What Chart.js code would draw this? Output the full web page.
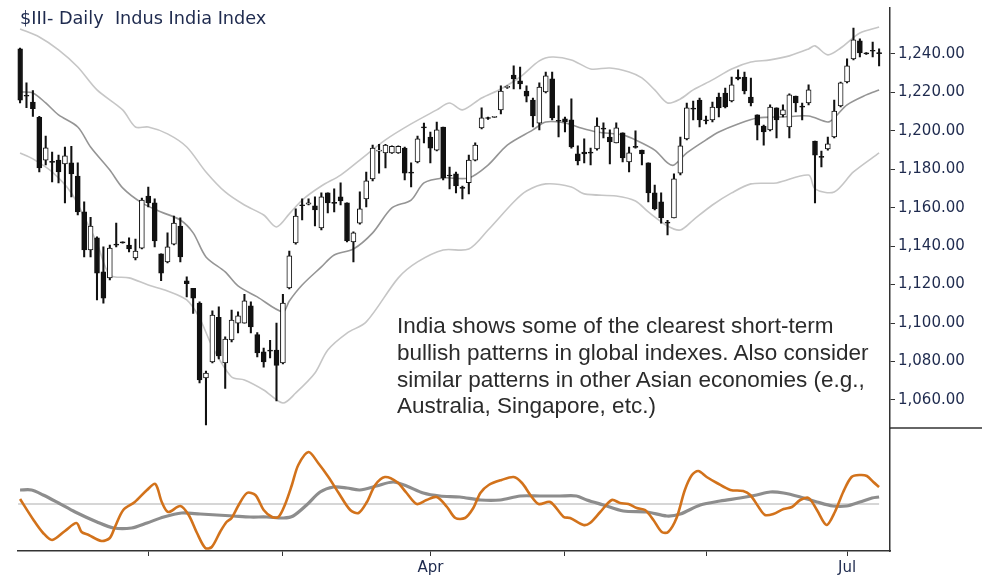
<!DOCTYPE html>
<html>
<head>
<meta charset="utf-8">
<script src="https://cdn.jsdelivr.net/npm/chart.js@4.4.1/dist/chart.umd.min.js"></script>
<style>
  html, body { margin: 0; padding: 0; background: #fff; }
  #wrap { position: relative; width: 982px; height: 580px; overflow: hidden; }
  #priceBox { position: absolute; left: 0; top: 0; width: 982px; height: 430px; }
  #oscBox { position: absolute; left: 0; top: 428px; width: 982px; height: 152px; }
  .title { position: absolute; left: 20px; top: 8px; font: 17.7px "DejaVu Sans"; line-height: 20px; color: #1e2a4e; white-space: pre; }
  .note { position: absolute; left: 397px; top: 313px; font: 22.5px "Liberation Sans"; line-height: 26.8px; color: #2b2b2b; white-space: pre; }
</style>
</head>
<body>
<div id="wrap">
  <div id="priceBox"><canvas id="priceChart"></canvas></div>
  <div id="oscBox"><canvas id="oscChart"></canvas></div>
  <div class="title">$III- Daily  Indus India Index</div>
  <div class="note">India shows some of the clearest short-term
bullish patterns in global indexes. Also consider
similar patterns in other Asian economies (e.g.,
Australia, Singapore, etc.)</div>
</div>
<script>
// daily candles (Jan - early Jul)
const opens = [1242.6,1218.4,1215,1207,1184.8,1184,1184.8,1182.8,1183.3,1176.5,
  1157.8,1138,1144.3,1126.6,1123.5,1141,1141.9,1140.6,1133.9,1139,
  1166,1162.5,1136,1131.8,1141.1,1150.5,1122,1118,1110.4,1071.4,
  1079.8,1103,1079.2,1091.2,1100,1100,1108.9,1094,1085,1085.6,
  1086,1079.2,1118.3,1141.7,1161.2,1161.9,1161,1149.5,1167.7,1162.8,
  1165.6,1162.5,1142.2,1152,1164.6,1175,1189.4,1188.5,1188.5,1188.5,
  1191,1178.5,1183.8,1202,1196.8,1190,1202,1177,1177.6,1170.8,
  1173,1184.8,1201.5,1206.9,1207,1210.9,1222.6,1229,1226,1220.7,
  1216,1204,1220.2,1227,1205.5,1206.2,1205.7,1188,1189,1188.6,
  1190.6,1201.1,1196.8,1193.7,1198.9,1183.8,1191.6,1190,1183.3,1167.7,
  1163,1152.5,1154.7,1178,1195.8,1211.5,1216,1205.5,1205.7,1217.6,
  1219.7,1215.5,1228,1228,1217.6,1208.3,1202.5,1200.5,1212,1208.3,
  1202,1218.1,1212.5,1214.5,1194.7,1186.4,1190.6,1196.8,1213,1225.4,
  1237.4,1246.8,1240.5,1241.6,1240.5];
const highs = [1243,1225,1221,1207.5,1197.3,1189,1187.4,1191.6,1192,1183.3,
  1163,1155,1144.8,1139.6,1140.6,1152,1142.2,1144.3,1143.7,1165,
  1170.8,1164.6,1136,1146.9,1155.7,1154.7,1124,1118,1111,1075,
  1106.3,1108.4,1092.8,1106.8,1105.8,1115,1111,1095,1087,1091,
  1100,1115,1137.5,1159.4,1164.6,1164.6,1165.6,1167.7,1167.7,1169.8,
  1173,1162.5,1147.4,1168.2,1178.6,1192.6,1193,1193,1192.2,1192.2,
  1191.5,1183.3,1197.3,1204,1199.4,1204.6,1202,1181.2,1178.6,1171.3,
  1187.4,1193.7,1212,1207.2,1207.6,1223.4,1223.4,1233.8,1233.2,1223.4,
  1217,1225,1230.6,1230.6,1213,1207.2,1216.6,1192.2,1195.8,1191,
  1206.7,1204.1,1200.5,1204.1,1198.9,1191.6,1200,1190,1183.3,1171.8,
  1167.7,1153.4,1177.6,1196.8,1214.5,1215.5,1217,1207.7,1215,1219.7,
  1222.3,1228,1231.7,1230.6,1227.5,1208.3,1203,1213.5,1212,1213.5,
  1219.2,1218.1,1214.5,1223.9,1194.7,1189.5,1196.8,1216,1225.4,1237.4,
  1253.5,1247.8,1240.7,1246.2,1242.6];
const lows = [1214.5,1212,1207.5,1178.6,1182.2,1173.4,1172.9,1162.5,1165.6,1156.2,
  1134.4,1134.4,1112,1110.4,1122.4,1139.6,1141.5,1137,1132.8,1138.5,
  1160.4,1139.6,1122,1131.3,1140.6,1131.8,1113.6,1105,1068.8,1047,
  1079.2,1081.3,1066,1090.2,1094.8,1100,1094.8,1082.4,1077,1081.8,
  1059.5,1078.7,1117.7,1141.1,1153.6,1161.4,1150.5,1148.4,1157.3,1157.8,
  1161.4,1142.2,1131.8,1151.5,1160.4,1174,1178,1180.7,1188.3,1188.3,
  1174.4,1170.8,1183.3,1193.7,1183.3,1189.5,1174.4,1169.8,1167.7,1164.6,
  1167.2,1184.3,1201,1206,1206.8,1208.8,1222,1221.8,1221.8,1215,
  1202,1200.5,1219.7,1205.7,1196.8,1199.4,1191,1182.2,1183.3,1182.2,
  1190,1196.3,1182.8,1193.7,1183.8,1178.6,1191,1182.2,1163,1158.8,
  1152,1145.8,1154.7,1177,1195.3,1205.7,1202,1203.6,1204.6,1207.2,
  1211.9,1215,1226.5,1219.2,1213,1195.3,1192.6,1200,1196.3,1207.2,
  1196.3,1209.8,1205.7,1213.5,1162.5,1181.2,1190,1196.3,1212.4,1224.9,
  1236.9,1238.4,1239.8,1238.4,1233.8];
const closes = [1216,1218,1211.5,1180.7,1191.1,1183.6,1178.6,1187,1177.6,1157.8,
  1138,1150.5,1126,1113,1139,1140.5,1141.7,1138.5,1137.5,1164,
  1162.5,1142.7,1126,1139.6,1152,1134.4,1120.5,1113,1070.4,1074,
  1104.2,1082.9,1091.7,1101.6,1103.7,1111.5,1098,1084.4,1079.8,1085.4,
  1078,1110.4,1135,1155.7,1161,1162.5,1158.8,1165.6,1162.5,1162.2,
  1163.5,1142.7,1146.9,1159.4,1174,1191,1190,1192.6,1192,1192,
  1178,1178,1195.8,1201.5,1191,1200.5,1175.5,1176.5,1171.3,1170,
  1184.8,1192.6,1206.7,1206.4,1207.4,1220.7,1223,1227,1224.4,1218,
  1207.7,1222.8,1228.6,1206.7,1205,1204.6,1191.6,1184.3,1188,1188.4,
  1202.5,1200.9,1194.2,1201.5,1185.9,1188.5,1191.4,1188,1167.7,1159.4,
  1154.7,1152,1175,1192.2,1212,1211.3,1205.7,1205.2,1212.4,1211.9,
  1212.4,1223.9,1227,1220.8,1214.5,1203,1199.4,1212.4,1205.7,1210.9,
  1218.7,1214.5,1212.3,1221.3,1187.4,1186.2,1193.2,1210.3,1225,1233.8,
  1247.3,1240.5,1240,1241.4,1240.2];

// bands (sampled at bar index)
const upperX = [0,3,6,9,12,16,18,20,23,26,29,32,35,38,40,42,44,47,50,53,57,61,65,67,69,72,75,78,81,83,86,89,92,95,97,99,101,103,105,108,111,114,117,120,123,124,126,128,131,134];
const upperY = [1253.0,1248.8,1242.1,1233.2,1221.3,1210.9,1202.0,1202.0,1198.4,1191.6,1178.6,1168.2,1161.4,1156.2,1150.0,1156.8,1164.0,1171.3,1177.0,1184.8,1195.3,1203.6,1210.9,1214.5,1210.9,1217.1,1221.8,1228.0,1236.4,1238.4,1236.9,1232.2,1232.7,1230.6,1227.5,1221.3,1214.5,1216.6,1221.3,1226.5,1232.2,1235.8,1236.9,1239.0,1242.6,1244.2,1239.5,1243.1,1250.9,1254.0];
const midX = [0,2,4,6,9,11,14,16,19,22,25,27,29,32,34,37,41,42,44,47,49,52,55,58,61,63,66,70,73,76,80,82,85,87,90,94,96,99,101,102,104,107,109,112,115,119,123,126,127,129,132,134];
const midY = [1220.2,1219.7,1214.5,1208.3,1202.0,1191.6,1179.6,1170.3,1162.5,1157.8,1153.6,1146.9,1134.4,1126.6,1119.3,1113.6,1105.8,1111.5,1119.8,1129.2,1135.4,1138.5,1146.9,1159.9,1164.0,1172.9,1175.5,1175.5,1182.2,1192.6,1200.5,1204.6,1204.1,1202.0,1199.4,1197.9,1195.3,1190.0,1183.3,1182.2,1188.5,1195.3,1199.4,1203.6,1206.7,1207.2,1207.7,1204.6,1206.7,1213.5,1218.7,1221.3];
const lowX = [0,2,5,8,10,12,14,17,20,23,26,28,30,33,35,38,41,43,46,48,51,54,59,62,66,70,73,77,79,82,86,88,93,96,98,101,103,105,108,111,114,118,123,124,127,130,134];
const lowY = [1188.5,1185.4,1178.6,1167.7,1155.2,1141.7,1125.0,1123.5,1119.8,1116.7,1112.0,1102.6,1087.6,1071.9,1070.4,1065.2,1058.4,1063.6,1074.0,1086.0,1094.8,1100.6,1123.5,1131.8,1138.0,1138.5,1148.4,1163.0,1168.7,1172.4,1170.8,1167.2,1166.1,1163.5,1157.8,1150.5,1148.4,1153.6,1161.4,1167.7,1172.4,1172.9,1177.0,1169.8,1168.2,1178.6,1188.5];

// oscillator panel
const fastX = [0,2.1,3.6,5,7,8.8,9.6,10.7,12.7,14,14.8,16.1,17.9,19.8,21.1,22.1,23.1,25,26.3,27.6,28.9,29.9,31.2,32.2,33,34.1,35.4,36.7,38,39.3,40.3,41.3,42.4,43.4,45,46.5,48.1,49.7,51.5,52.8,54.1,55.4,56.9,58.8,60.3,61.9,63.4,65,66.6,67.9,69.4,70.7,71.8,73.1,75.1,77,78.3,79.6,80.9,82.7,84.8,85.8,87.9,88.9,90.5,92.3,93.6,94.9,96.2,97.5,98.8,100.1,101.1,102.4,103.7,104.8,105.8,107.1,108.7,110.8,112.8,113.9,115.2,116.2,117.5,119.1,120.4,121.7,123,124.3,125.8,127.1,128.4,129.7,131,132.1,133.1,134];
const fastY = [5,-16,-29,-36,-27,-19,-28,-31,-37,-34,-23,-6,2,14,20,2,-8,-2,-11,-29,-44,-43,-28,-18,-14,-1,11,9,-6,-13,-13,-1,19,39,52,41,27,11,-6,-9,2,19,27,22,11,0,4,7,-3,-14,-14,-4,11,19,24,27,21,9,0,2,-13,-14,-21,-19,-8,4,1,0,-4,-6,-16,-28,-28,-14,14,29,33,27,21,14,13,9,-3,-11,-10,-5,-3,4,6,-6,-21,-8,12,27,29,28,22,17];
const slowX = [0,1.8,3.6,6,8.6,12,14.6,17.4,19.8,22.4,25.2,28.1,30.7,33.3,35.9,38.5,41.1,42.6,44.7,46.8,48.9,51,53,55.6,58.2,60.3,62.9,65.5,68.6,71.8,74.9,78,81.1,84.2,86.8,88.4,91,94.1,97.8,100.9,103,106.1,109.2,112.3,114.9,117,119.1,121.7,124.3,126.8,128.9,131,132.9,134];
const slowY = [14,14,9,1,-8,-18,-24,-24,-19,-13,-9,-10,-11,-12,-13,-13,-14,-12,-1,12,17,16,14,18,22,18,11,8,7,4,4,8,8,8,8,4,-1,-7,-8,-12,-10,-1,3,6,9,12,11,7,2,-2,-2,2,6,7];

// axis ticks
const priceTicks = [1060,1080,1100,1120,1140,1160,1180,1200,1220,1240];
const monthStarts = [20,41,64,85,107,129];
const monthLabels = ['','','Apr','','','Jul'];

const ink = '#1e2a4e';
const axisCol = '#333';
const tickFont = { family: 'DejaVu Sans', size: 15 };

function pts(xs, ys) { return xs.map((x, i) => ({ x: x, y: ys[i] })); }

const wicks = lows.map((l, i) => ({ x: i, y: [l, highs[i]] }));
const bodies = opens.map((o, i) => ({ x: i, y: [o, closes[i]] }));
const bodyFill = opens.map((o, i) => closes[i] >= o ? '#ffffff' : '#111111');

const sepLine = {
  id: 'sepLine',
  afterDraw(chart) {
    const c = chart.ctx, a = chart.chartArea;
    c.save();
    c.strokeStyle = axisCol;
    c.lineWidth = 1.5;
    c.beginPath();
    c.moveTo(a.right, a.bottom);
    c.lineTo(chart.width, a.bottom);
    c.stroke();
    c.restore();
  }
};

const bandLine = (data, color) => ({
  type: 'line', data: data, borderColor: color, borderWidth: 1.6,
  pointRadius: 0, tension: 0.3, fill: false, order: 5
});

new Chart(document.getElementById('priceChart'), {
  type: 'bar',
  data: {
    datasets: [
      bandLine(pts(upperX, upperY), '#c6c6c6'),
      bandLine(pts(lowX, lowY), '#c6c6c6'),
      bandLine(pts(midX, midY), '#959595'),
      { data: wicks, backgroundColor: '#111', barThickness: 1.4, grouped: false, order: 2 },
      { data: bodies, backgroundColor: bodyFill, borderColor: '#111', borderWidth: 1,
        borderSkipped: false, barThickness: 5, minBarLength: 1, grouped: false, order: 1 }
    ]
  },
  options: {
    responsive: true,
    maintainAspectRatio: false,
    animation: false,
    layout: { padding: { left: 17.5, top: 8, right: 0, bottom: 2 } },
    plugins: { legend: { display: false }, tooltip: { enabled: false } },
    scales: {
      x: { type: 'linear', min: -0.4, max: 135.7, offset: false, display: false, grid: { offset: false } },
      y: {
        position: 'right', min: 1045.4, max: 1263.9,
        afterBuildTicks: s => { s.ticks = priceTicks.map(v => ({ value: v })); },
        afterFit: s => { s.width = 92; s.paddingTop = 0; s.paddingBottom = 0; },
        border: { display: true, color: axisCol, width: 1.5 },
        grid: { drawOnChartArea: false, drawTicks: true, tickLength: 5, color: axisCol },
        ticks: {
          color: ink, font: tickFont, padding: 3,
          callback: v => v.toLocaleString('en-US', { minimumFractionDigits: 2, maximumFractionDigits: 2 })
        }
      }
    }
  },
  plugins: [sepLine]
});

new Chart(document.getElementById('oscChart'), {
  type: 'line',
  data: {
    datasets: [
      { data: pts(fastX, fastY), borderColor: '#d2721b', borderWidth: 2.6, pointRadius: 0, tension: 0.3 },
      { data: pts(slowX, slowY), borderColor: '#8d8d8d', borderWidth: 3.2, pointRadius: 0, tension: 0.3 },
      { data: [{ x: -0.3, y: 0 }, { x: 134, y: 0 }], borderColor: '#c8c8c8', borderWidth: 1.5, pointRadius: 0 }
    ]
  },
  options: {
    responsive: true,
    maintainAspectRatio: false,
    animation: false,
    layout: { padding: { left: 17.5, top: 0, right: 0, bottom: 0 } },
    plugins: { legend: { display: false }, tooltip: { enabled: false } },
    scales: {
      x: {
        type: 'linear', min: -0.4, max: 135.7, offset: false,
        afterBuildTicks: s => { s.ticks = monthStarts.map(v => ({ value: v })); },
        afterFit: s => { s.height = 29; s.paddingLeft = 0; s.paddingRight = 0; },
        border: { display: true, color: axisCol, width: 1.5 },
        grid: { drawOnChartArea: false, drawTicks: true, tickLength: 5, color: axisCol, offset: false },
        ticks: {
          color: ink, font: tickFont, padding: 3, autoSkip: false, maxRotation: 0,
          callback: (v, i) => monthLabels[i]
        }
      },
      y: {
        position: 'right', min: -47, max: 76,
        afterFit: s => { s.width = 92; s.paddingTop = 0; s.paddingBottom = 0; },
        border: { display: true, color: axisCol, width: 1.5 },
        grid: { display: false },
        ticks: { display: false }
      }
    }
  }
});
</script>
</body>
</html>
